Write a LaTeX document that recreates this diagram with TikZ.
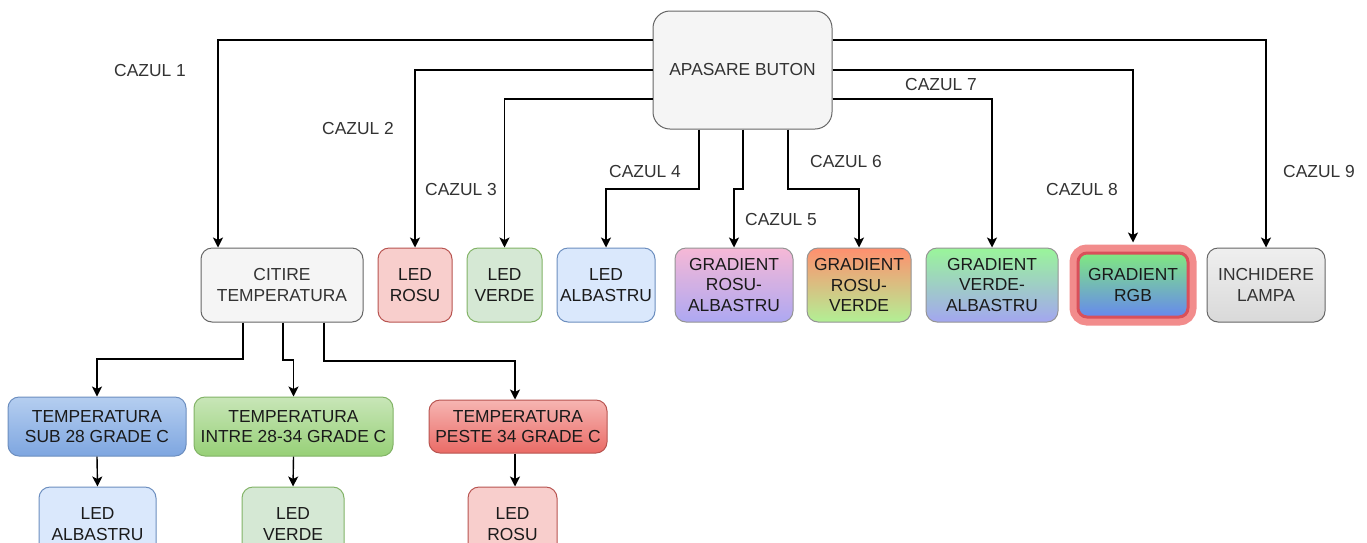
\documentclass[tikz,border=0pt]{standalone}
\usepackage{fontspec}
\setmainfont{Liberation Sans}
\usetikzlibrary{arrows.meta}
\definecolor{grayfill}{HTML}{F5F5F5}
\definecolor{graydraw}{HTML}{666666}
\definecolor{grtxt}{HTML}{333333}
\definecolor{redfill}{HTML}{F8CECC}
\definecolor{reddraw}{HTML}{B85450}
\definecolor{greenfill}{HTML}{D5E8D4}
\definecolor{greendraw}{HTML}{82B366}
\definecolor{bluefill}{HTML}{DAE8FC}
\definecolor{bluedraw}{HTML}{6C8EBF}
\definecolor{raTop}{HTML}{F6B8D6}
\definecolor{raBot}{HTML}{ADA8F2}
\definecolor{rvTop}{HTML}{FF8F6E}
\definecolor{rvBot}{HTML}{B2F095}
\definecolor{vaTop}{HTML}{9AF59A}
\definecolor{vaBot}{HTML}{A3A6F0}
\definecolor{rgbTop}{HTML}{80E880}
\definecolor{rgbBot}{HTML}{6688EE}
\definecolor{glow}{HTML}{F07878}
\definecolor{glowin}{HTML}{D9505A}
\definecolor{inTop}{HTML}{EFEFEF}
\definecolor{inBot}{HTML}{D9D9D9}
\definecolor{tbTop}{HTML}{B5CEF0}
\definecolor{tbBot}{HTML}{7EA6E0}
\definecolor{tgTop}{HTML}{C8E6B8}
\definecolor{tgBot}{HTML}{97D077}
\definecolor{trTop}{HTML}{F6B5B2}
\definecolor{trBot}{HTML}{EA6B66}
\definecolor{ptxt}{HTML}{1A1A1A}
\begin{document}
\begin{tikzpicture}[x=1pt,y=-1pt,
  base/.style={rounded corners=11pt, align=center, inner sep=0pt, line width=1pt,
    font=\fontsize{17.4}{20.8}\selectfont, text=ptxt, minimum height=74pt},
  graybox/.style={base, draw=graydraw, fill=grayfill, text=grtxt},
  redbox/.style={base, draw=reddraw, fill=redfill},
  greenbox/.style={base, draw=greendraw, fill=greenfill},
  bluebox/.style={base, draw=bluedraw, fill=bluefill},
  gradbox/.style 2 args={base, draw=graydraw, top color=#1, bottom color=#2},
  lbl/.style={font=\fontsize{17.4}{20.8}\selectfont, text=grtxt, inner sep=0pt},
  conn/.style={draw=black, line width=1.4pt, -{Stealth[length=10pt,width=10pt,inset=2.5pt]}}
]
\clip (0,0) rectangle (1367,542);
\fill[white] (0,0) rectangle (1367,542);

% main button
\node[graybox, rounded corners=17pt, minimum width=179pt, minimum height=118pt] (btn) at (742.5,70) {APASARE BUTON};

% top row
\node[graybox, minimum width=162pt] (citire) at (282,285) {CITIRE\\TEMPERATURA};
\node[redbox, minimum width=74pt] (lrosu) at (415,285) {LED\\ROSU};
\node[greenbox, minimum width=75pt] (lverde) at (504.5,285) {LED\\VERDE};
\node[bluebox, minimum width=98pt] (lalb) at (606,285) {LED\\ALBASTRU};
\node[gradbox={raTop}{raBot}, draw=graydraw!70, minimum width=118pt] (gra) at (734,285) {GRADIENT\\ROSU-\\ALBASTRU};
\node[gradbox={rvTop}{rvBot}, draw=graydraw!70, minimum width=104pt] (grv) at (859,285) {GRADIENT\\ROSU-\\VERDE};
\node[gradbox={vaTop}{vaBot}, draw=graydraw!70, minimum width=132pt] (gva) at (992,285) {GRADIENT\\VERDE-\\ALBASTRU};
\node[gradbox={rgbTop}{rgbBot}, draw=glowin, line width=3pt, rounded corners=9pt,
  preaction={draw=glow, line width=17pt, opacity=0.85},
  minimum width=110pt, minimum height=64pt] (grgb) at (1133,285) {GRADIENT\\RGB};
\node[gradbox={inTop}{inBot}, text=grtxt, minimum width=118pt] (inch) at (1266,285) {INCHIDERE\\LAMPA};

% temperature row
\node[gradbox={tbTop}{tbBot}, draw=bluedraw, minimum width=178pt, minimum height=59pt] (tsub) at (97,426.5) {TEMPERATURA\\SUB 28 GRADE C};
\node[gradbox={tgTop}{tgBot}, draw=greendraw, minimum width=199pt, minimum height=59pt] (tint) at (293.5,426.5) {TEMPERATURA\\INTRE 28-34 GRADE C};
\node[gradbox={trTop}{trBot}, draw=reddraw, minimum width=178pt, minimum height=53pt] (tpes) at (518,426.5) {TEMPERATURA\\PESTE 34 GRADE C};

% bottom LEDs
\node[bluebox, minimum width=117pt] (bl1) at (97.5,524) {LED\\ALBASTRU};
\node[greenbox, minimum width=102pt] (bl2) at (293,524) {LED\\VERDE};
\node[redbox, minimum width=89pt] (bl3) at (512.5,524) {LED\\ROSU};

% labels
\node[lbl] (lab1) at (150,71) {CAZUL 1};
\node[lbl] (lab2) at (358,129) {CAZUL 2};
\node[lbl] (lab3) at (461,190) {CAZUL 3};
\node[lbl] (lab4) at (645,172) {CAZUL 4};
\node[lbl] (lab5) at (781,220) {CAZUL 5};
\node[lbl] (lab6) at (846,162) {CAZUL 6};
\node[lbl] (lab7) at (941,85) {CAZUL 7};
\node[lbl] (lab8) at (1082,190) {CAZUL 8};
\node[lbl] (lab9) at (1319,172) {CAZUL 9};

% connectors from button
\draw[conn] (btn.west |- 0,40) -| (218,0 |- citire.north);
\draw[conn] (btn.west |- 0,70) -| (lrosu.north);
\draw[conn] (btn.west |- 0,99) -| (lverde.north);
\draw[conn] (699,0 |- btn.south) -- (699,189) -| (lalb.north);
\draw[conn] (743,0 |- btn.south) -- (743,189) -| (gra.north);
\draw[conn] (788,0 |- btn.south) -- (788,189) -| (grv.north);
\draw[conn] (btn.east |- 0,99) -| (gva.north);
\draw[conn] (btn.east |- 0,70) -| ([yshift=9pt]grgb.north);
\draw[conn] (btn.east |- 0,40) -| (inch.north);

% connectors from citire
\draw[conn] (243,0 |- citire.south) -- (243,359) -| (tsub.north);
\draw[conn] (283,0 |- citire.south) -- (283,360) -| (tint.north);
\draw[conn] (324,0 |- citire.south) -- (324,361) -| (515,0 |- tpes.north);

% temperature to LEDs
\draw[conn] (tsub.south) -- (bl1.north);
\draw[conn] (tint.south) -- (bl2.north);
\draw[conn] (515,0 |- tpes.south) -- (515,0 |- bl3.north);
\end{tikzpicture}
\end{document}
